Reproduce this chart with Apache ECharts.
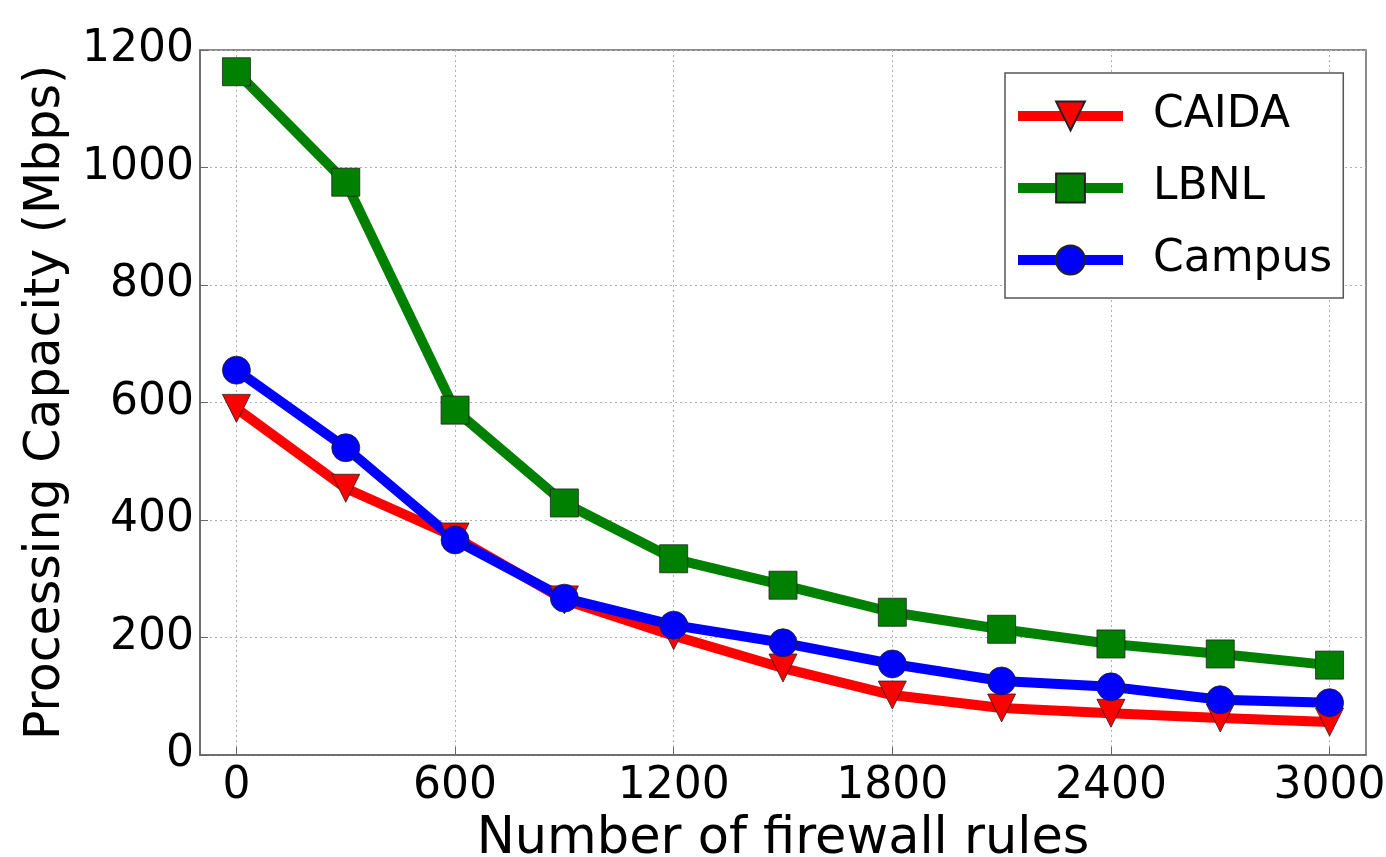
<!DOCTYPE html>
<html><head><meta charset="utf-8">
<script src="https://cdn.jsdelivr.net/npm/echarts@6/dist/echarts.min.js"></script>
<style>html,body{margin:0;padding:0;background:#fff}#c{width:1386px;height:857px}</style>
</head><body><div id="c"></div>
<script>
const rules = [0, 300, 600, 900, 1200, 1500, 1800, 2100, 2400, 2700, 3000];
const caida = [590, 454, 371, 264, 203, 148, 102, 80, 71, 63, 56];
const lbnl = [1163, 975, 587, 429, 334, 289, 243, 214, 189, 172, 153];
const campus = [655, 523, 366, 267, 221, 191, 155, 126, 116, 94, 89];
const xTicks = [0, 600, 1200, 1800, 2400, 3000];
const yTicks = [0, 200, 400, 600, 800, 1000, 1200];

const FONT = 'DejaVu Sans';
const FRAME = '#666';
function pairs(vals){ return rules.map((x,i)=>[x, vals[i]]); }
function mkSeries(name, vals, color, symbol, rotate){
  return {
    name, type:'line', data: pairs(vals), symbol, symbolSize: 28, symbolRotate: rotate||0,
    lineStyle:{color, width:10}, itemStyle:{color, borderColor:'#222', borderWidth:0.8},
    showAllSymbol:true, animation:false, emphasis:{disabled:true}
  };
}
const chart = echarts.init(document.getElementById('c'), null, {renderer:'canvas'});
chart.setOption({
  animation:false,
  textStyle:{fontFamily:FONT},
  grid:{left:200, right:20, top:50, bottom:102, outerBoundsMode:'none', containLabel:false,
        show:true, borderColor:FRAME, borderWidth:1.5, backgroundColor:'transparent'},
  legend:{
    left:1005, top:73, orient:'vertical', padding:[21,11,16,8],
    borderColor:'#555', borderWidth:1.5, borderRadius:0, backgroundColor:'#fff',
    itemWidth:105, itemHeight:36, itemGap:28,
    lineStyle:{width:10},
    textStyle:{fontSize:44, fontFamily:FONT, color:'#000', padding:[0,0,0,25]},
    data:['CAIDA','LBNL','Campus']
  },
  xAxis:{
    type:'value', min:-100, max:3100,
    name:'Number of firewall rules', nameLocation:'middle', nameGap:52,
    nameTextStyle:{fontSize:51, fontFamily:FONT, color:'#000'},
    axisLine:{show:true, onZero:false, lineStyle:{color:FRAME, width:1.5}},
    axisTick:{show:true, inside:true, length:8, customValues:xTicks, lineStyle:{color:FRAME}},
    axisLabel:{customValues:xTicks, fontSize:44, fontFamily:FONT, color:'#000', margin:10,
               formatter:v=>String(v)},
    splitLine:{show:true, lineStyle:{color:'#b0b0b0', type:[2,3], width:1}}
  },
  yAxis:{
    type:'value', min:0, max:1200, interval:200,
    name:'Processing Capacity (Mbps)', nameLocation:'middle', nameGap:115,
    nameTextStyle:{fontSize:49, fontFamily:FONT, color:'#000'},
    axisLine:{show:true, onZero:false, lineStyle:{color:FRAME, width:1.5}},
    axisTick:{show:true, inside:true, length:8, lineStyle:{color:FRAME}},
    axisLabel:{fontSize:44, fontFamily:FONT, color:'#000', margin:6, formatter:v=>String(v)},
    splitLine:{show:true, lineStyle:{color:'#b0b0b0', type:[2,3], width:1}}
  },
  series:[
    mkSeries('CAIDA', caida, '#ff0000', 'triangle', 180),
    mkSeries('LBNL', lbnl, '#008000', 'rect'),
    mkSeries('Campus', campus, '#0000ff', 'circle')
  ]
});
</script></body></html>
